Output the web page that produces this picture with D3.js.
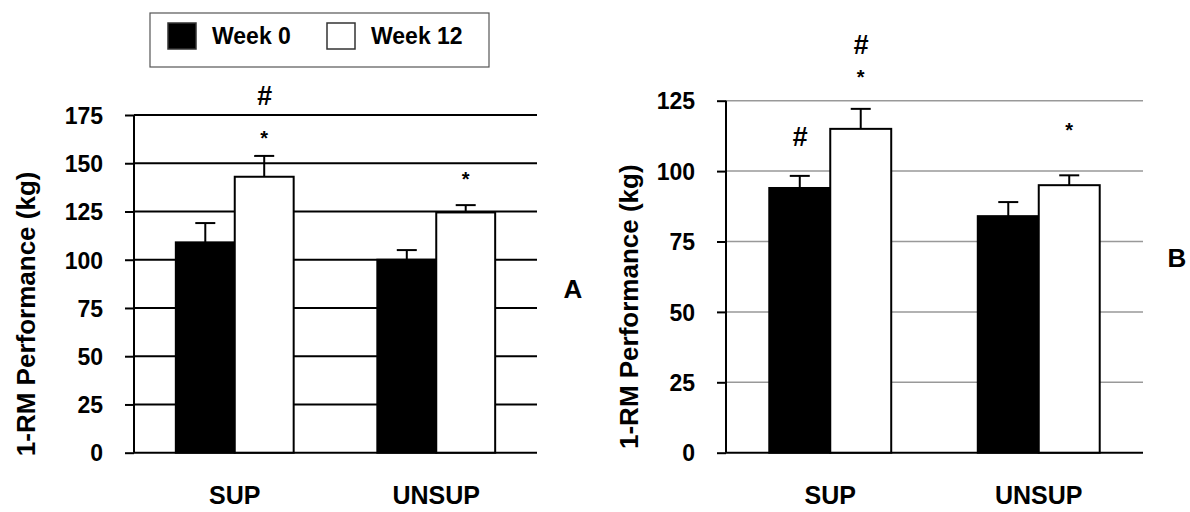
<!DOCTYPE html>
<html>
<head>
<meta charset="utf-8">
<script src="https://cdn.jsdelivr.net/npm/d3@7"></script>
<style>
  body { margin: 0; background: #fff; }
  text { font-family: "Liberation Sans", Arial, Helvetica, sans-serif; font-weight: bold; fill: #000; }
</style>
</head>
<body>
<div id="chart"></div>
<script>
// categories and series
const groups = ['SUP', 'UNSUP'];
const series = ['Week 0', 'Week 12'];
const fills = ['#000', '#fff'];

// panel A (kg) - rows follow series, columns follow groups
const meanA = [[109, 100], [143, 124.5]];
const seA = [[10, 5], [10.8, 3.8]];
const ticksA = [0, 25, 50, 75, 100, 125, 150, 175];
const marksA = [
  {group: 'SUP', series: 'Week 12', text: '#', at: 185},
  {group: 'SUP', series: 'Week 12', text: '*', at: 165},
  {group: 'UNSUP', series: 'Week 12', text: '*', at: 144}
];

// panel B (kg)
const meanB = [[94, 84], [115, 95]];
const seB = [[4.3, 5], [7.1, 3.5]];
const ticksB = [0, 25, 50, 75, 100, 125];
const marksB = [
  {group: 'SUP', series: 'Week 0', text: '#', at: 112.5},
  {group: 'SUP', series: 'Week 12', text: '#', at: 145},
  {group: 'SUP', series: 'Week 12', text: '*', at: 135},
  {group: 'UNSUP', series: 'Week 12', text: '*', at: 116}
];

const WIDTH = 1190, HEIGHT = 512;

const svg = d3.select('#chart')
  .append('svg')
    .attr('width', WIDTH)
    .attr('height', HEIGHT);

function drawPanel(cfg, mean, se, ticks, marks) {
  const rows = [];
  series.forEach((s, i) => groups.forEach((g, j) => {
    rows.push({group: g, series: s, i: i, mean: mean[i][j], se: se[i][j]});
  }));

  const y = d3.scaleLinear()
    .domain([0, d3.max(ticks)])
    .range([cfg.bottom, cfg.top]);
  const x0 = d3.scaleBand().domain(groups).range([cfg.left, cfg.right]);
  const x1 = d3.scaleBand().domain(series).range([0, x0.bandwidth()]).paddingOuter(0.71);

  const g = svg.append('g');

  // horizontal grid lines
  g.append('g').selectAll('line').data(ticks).join('line')
    .attr('x1', cfg.left).attr('x2', cfg.right)
    .attr('y1', d => y(d)).attr('y2', d => y(d))
    .attr('stroke', d => d === 0 ? '#000' : cfg.gridColor)
    .attr('stroke-width', d => d === 0 ? 2 : cfg.gridWidth);

  // bars
  g.append('g').selectAll('rect').data(rows).join('rect')
    .attr('x', d => x0(d.group) + x1(d.series))
    .attr('y', d => y(d.mean))
    .attr('width', x1.bandwidth())
    .attr('height', d => y(0) - y(d.mean))
    .attr('fill', d => fills[d.i])
    .attr('stroke', '#000')
    .attr('stroke-width', 2);

  // error bars (upper only)
  const cx = d => x0(d.group) + x1(d.series) + x1.bandwidth() / 2;
  const err = g.append('g').attr('stroke', '#000').attr('stroke-width', 2);
  err.selectAll('.stem').data(rows).join('line').attr('class', 'stem')
    .attr('x1', cx).attr('x2', cx)
    .attr('y1', d => y(d.mean)).attr('y2', d => y(d.mean + d.se));
  err.selectAll('.cap').data(rows).join('line').attr('class', 'cap')
    .attr('x1', d => cx(d) - 10).attr('x2', d => cx(d) + 10)
    .attr('y1', d => y(d.mean + d.se)).attr('y2', d => y(d.mean + d.se));

  // y axis
  const axis = g.append('g')
    .attr('transform', `translate(${cfg.left},0)`)
    .call(d3.axisLeft(y).tickValues(ticks).tickSize(9).tickPadding(22));
  axis.select('.domain').remove();
  axis.selectAll('.tick line').attr('stroke', '#000').attr('stroke-width', 2);
  axis.selectAll('.tick text').style('font-size', '23px').attr('dy', '0.36em');
  g.append('line')
    .attr('x1', cfg.left).attr('x2', cfg.left)
    .attr('y1', y(0)).attr('y2', y(d3.max(ticks)))
    .attr('stroke', '#000').attr('stroke-width', 2);

  // category labels
  g.append('g').selectAll('text').data(groups).join('text')
    .attr('x', d => x0(d) + x0.bandwidth() / 2)
    .attr('y', 504)
    .attr('text-anchor', 'middle')
    .style('font-size', '25px')
    .text(d => d);

  // y axis title
  g.append('text')
    .attr('transform', `translate(${cfg.titleX},${(cfg.top + cfg.bottom) / 2 + 30}) rotate(-90)`)
    .attr('text-anchor', 'middle')
    .attr('dy', '0.36em')
    .style('font-size', '26px')
    .text('1-RM Performance (kg)');

  // significance marks
  g.append('g').selectAll('text').data(marks).join('text')
    .attr('x', d => x0(d.group) + x1(d.series) + x1.bandwidth() / 2)
    .attr('y', d => y(d.at))
    .attr('text-anchor', 'middle')
    .attr('dy', d => d.text === '*' ? '0.55em' : '0.36em')
    .style('font-size', d => d.text === '*' ? '20px' : '27px')
    .style('font-style', d => d.text === '#' ? 'italic' : 'normal')
    .text(d => d.text);

  // panel letter
  g.append('text')
    .attr('x', cfg.letterX).attr('y', cfg.letterY)
    .attr('text-anchor', 'middle')
    .attr('dy', '0.36em')
    .style('font-size', '26px')
    .text(cfg.letter);
}

drawPanel({left: 134, right: 537, top: 115, bottom: 452.7, gridColor: '#000', gridWidth: 2,
           titleX: 26, letter: 'A', letterX: 573, letterY: 289}, meanA, seA, ticksA, marksA);
drawPanel({left: 726, right: 1143, top: 100.7, bottom: 452.7, gridColor: '#999', gridWidth: 1.5,
           titleX: 629, letter: 'B', letterX: 1177, letterY: 258}, meanB, seB, ticksB, marksB);

// legend
const legend = svg.append('g');
legend.append('rect')
  .attr('x', 150).attr('y', 13).attr('width', 339).attr('height', 54)
  .attr('fill', '#fff').attr('stroke', '#555').attr('stroke-width', 1.2);
const item = legend.selectAll('.item').data(series).join('g')
  .attr('class', 'item')
  .attr('transform', (d, i) => `translate(${168 + i * 159},23)`);
item.append('rect')
  .attr('width', 28).attr('height', 26)
  .attr('fill', (d, i) => fills[i])
  .attr('stroke', '#333').attr('stroke-width', 1.5);
item.append('text')
  .attr('x', 44).attr('y', 13).attr('dy', '0.36em')
  .style('font-size', '23px')
  .text(d => d);
</script>
</body>
</html>
